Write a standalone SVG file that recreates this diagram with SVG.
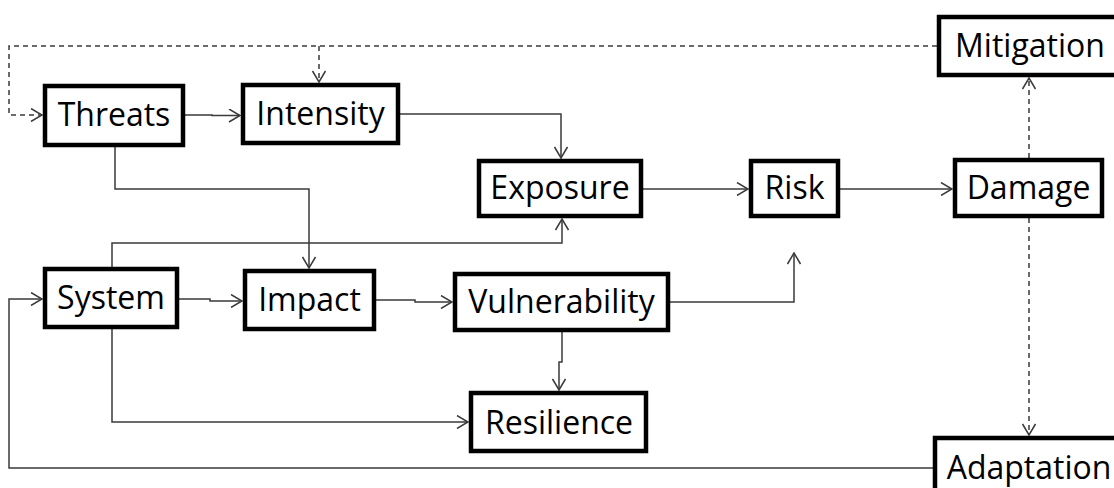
<svg xmlns="http://www.w3.org/2000/svg" width="1114" height="488" viewBox="0 0 1114 488">
<style>
.box{fill:#fff;stroke:#000;stroke-width:4.5}
.lbl{font-family:"Open Sans","Noto Sans",sans-serif;font-size:32px;fill:#000;text-anchor:middle}
.c{fill:none;stroke:#3a3a3a;stroke-width:1.5}
.d{fill:none;stroke:#3a3a3a;stroke-width:1.5;stroke-dasharray:5,4}
</style>
<defs>
<marker id="ah" viewBox="0 0 13 14" refX="12" refY="7" markerWidth="13" markerHeight="14" markerUnits="userSpaceOnUse" orient="auto">
<path d="M1,0.5 L12,7 L1,13.5" fill="none" stroke="#3a3a3a" stroke-width="1.5"/>
</marker>
</defs>
<g id="connectors">
<path class="d" d="M937,46 H9 V115 H42" marker-end="url(#ah)"/>
<path class="d" d="M319,46 V82" marker-end="url(#ah)"/>
<path class="d" d="M1029,158 V78" marker-end="url(#ah)"/>
<path class="d" d="M1029,218 V435" marker-end="url(#ah)"/>
<path class="c" d="M185,115 H212 V115.5 H240" marker-end="url(#ah)"/>
<path class="c" d="M400,114 H561 V158" marker-end="url(#ah)"/>
<path class="c" d="M643,189 H748" marker-end="url(#ah)"/>
<path class="c" d="M840,189 H952" marker-end="url(#ah)"/>
<path class="c" d="M115,147 V189 H309 V268" marker-end="url(#ah)"/>
<path class="c" d="M112,267 V243 H562 V219" marker-end="url(#ah)"/>
<path class="c" d="M179,299 H210 V301 H242" marker-end="url(#ah)"/>
<path class="c" d="M376,300 H415 V302 H452" marker-end="url(#ah)"/>
<path class="c" d="M670,302 H794 V253" marker-end="url(#ah)"/>
<path class="c" d="M562,332 V362 H559 V390" marker-end="url(#ah)"/>
<path class="c" d="M112,329 V422 H468" marker-end="url(#ah)"/>
<path class="c" d="M935,468 H9 V299 H42" marker-end="url(#ah)"/>
</g>
<g id="threats"><rect class="box" x="45" y="86" width="138" height="59"/><text class="lbl" x="114" y="126">Threats</text></g>
<g id="intensity"><rect class="box" x="243" y="85" width="155" height="58"/><text class="lbl" x="320.5" y="125">Intensity</text></g>
<g id="exposure"><rect class="box" x="479" y="161" width="162" height="55"/><text class="lbl" x="560" y="199">Exposure</text></g>
<g id="risk"><rect class="box" x="751" y="161" width="87" height="55"/><text class="lbl" x="794.5" y="199">Risk</text></g>
<g id="mitigation"><rect class="box" x="939" y="17" width="180" height="58"/><text class="lbl" x="1030" y="57">Mitigation</text></g>
<g id="damage"><rect class="box" x="955" y="160" width="147" height="56"/><text class="lbl" x="1028.5" y="199">Damage</text></g>
<g id="system"><rect class="box" x="45" y="269" width="132" height="58"/><text class="lbl" x="111" y="309">System</text></g>
<g id="impact"><rect class="box" x="245" y="271" width="129" height="58"/><text class="lbl" x="309.5" y="311">Impact</text></g>
<g id="vulnerability"><rect class="box" x="455" y="274" width="213" height="56"/><text class="lbl" x="561.5" y="313">Vulnerability</text></g>
<g id="resilience"><rect class="box" x="471" y="393" width="175" height="58"/><text class="lbl" x="559" y="434">Resilience</text></g>
<g id="adaptation"><rect class="box" x="935" y="438" width="190" height="70"/><text class="lbl" x="1029" y="479">Adaptation</text></g>
</svg>
